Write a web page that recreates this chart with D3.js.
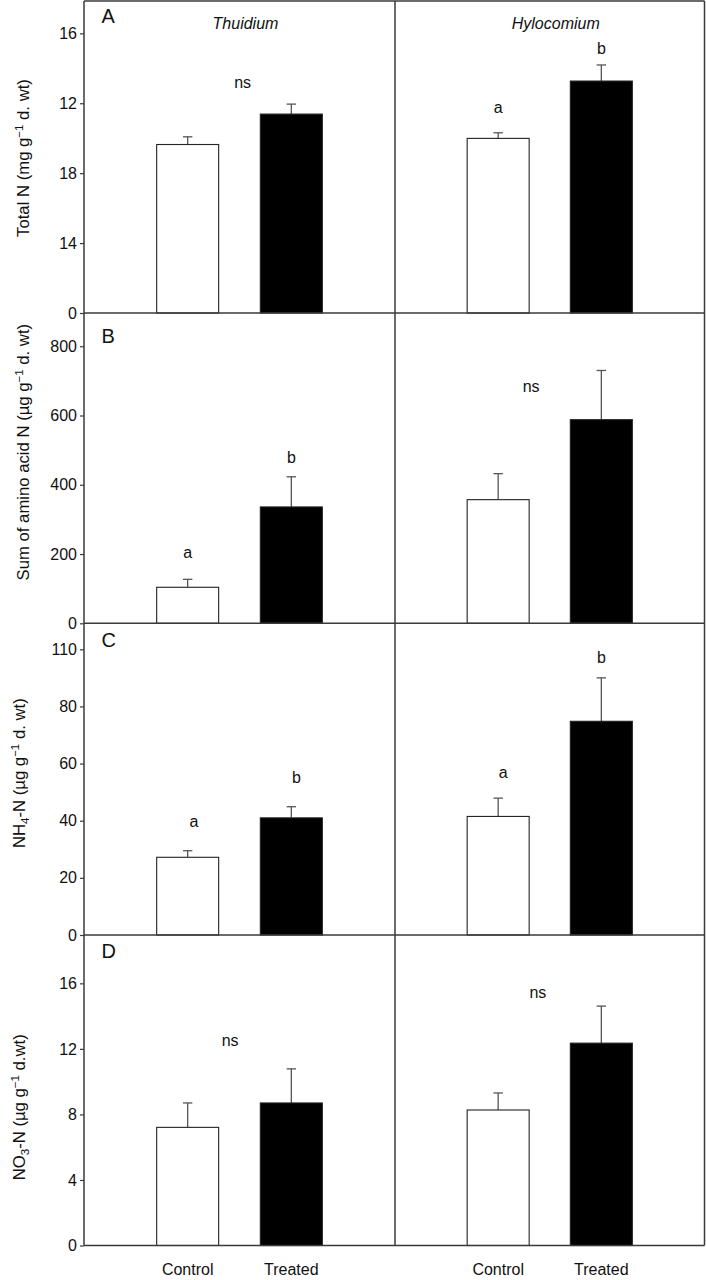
<!DOCTYPE html>
<html>
<head>
<meta charset="utf-8">
<script src="https://cdn.jsdelivr.net/npm/d3@7"></script>
<style>
  html, body { margin: 0; padding: 0; background: #fff; }
  svg { display: block; font-family: "Liberation Sans", Arial, sans-serif; }
</style>
</head>
<body>
<svg id="chart" width="706" height="1280"></svg>
<script>
// ---------------- DATA ----------------
const categories = ["Control", "Treated"];
const species = ["Thuidium", "Hylocomium"];
const panelLetters = ["A", "B", "C", "D"];

// means[species][category], errors = SE (upper whisker length)
const totalN_means = [[9.64, 11.38], [9.99, 13.27]];
const totalN_err   = [[0.44, 0.57], [0.32, 0.92]];
const aminoN_means = [[104, 336], [357, 588]];
const aminoN_err   = [[23, 87], [75, 142]];
const nh4_means    = [[27.2, 41.0], [41.5, 74.8]];
const nh4_err      = [[2.3, 3.9], [6.4, 15.2]];
const no3_means    = [[7.21, 8.70], [8.27, 12.35]];
const no3_err      = [[1.49, 2.08], [1.04, 2.26]];

// y-axis maxima and tick values / tick labels (as printed)
const yMax = [17.85, 896, 109.1, 18.95];
const totalN_ticks = [0, 4, 8, 12, 16];
const totalN_tickLabels = ["0", "14", "18", "12", "16"];
const aminoN_ticks = [0, 200, 400, 600, 800];
const aminoN_tickLabels = ["0", "200", "400", "600", "800"];
const nh4_ticks = [0, 20, 40, 60, 80, 100];
const nh4_tickLabels = ["0", "20", "40", "60", "80", "110"];
const no3_ticks = [0, 4, 8, 12, 16];
const no3_tickLabels = ["0", "4", "8", "12", "16"];

// significance letters: species index, position in category units, y value
const totalN_sig = [{s: 0, pos: 0.53, y: 12.87, t: "ns"}, {s: 1, pos: 0, y: 11.44, t: "a"}, {s: 1, pos: 1, y: 14.8, t: "b"}];
const aminoN_sig = [{s: 0, pos: 0, y: 188, t: "a"}, {s: 0, pos: 1, y: 464, t: "b"}, {s: 1, pos: 0.32, y: 667, t: "ns"}];
const nh4_sig    = [{s: 0, pos: 0.06, y: 37.9, t: "a"}, {s: 0, pos: 1.05, y: 53.3, t: "b"}, {s: 1, pos: 0.05, y: 54.8, t: "a"}, {s: 1, pos: 1, y: 95.1, t: "b"}];
const no3_sig    = [{s: 0, pos: 0.41, y: 12.16, t: "ns"}, {s: 1, pos: 0.385, y: 15.08, t: "ns"}];

// axis titles
const yTitles = [
  [{t: "Total N (mg g"}, {t: "\u22121", sup: true}, {t: " d. wt)"}],
  [{t: "Sum of amino acid N (\u00b5g g"}, {t: "\u22121", sup: true}, {t: " d. wt)"}],
  [{t: "NH"}, {t: "4", sub: true}, {t: "-N (\u00b5g g"}, {t: "\u22121", sup: true}, {t: " d. wt)"}],
  [{t: "NO"}, {t: "3", sub: true}, {t: "-N (\u00b5g g"}, {t: "\u22121", sup: true}, {t: " d.wt)"}]
];

// ---------------- LAYOUT ----------------
const panels = [
  {means: totalN_means, err: totalN_err, ticks: totalN_ticks, labels: totalN_tickLabels, sig: totalN_sig},
  {means: aminoN_means, err: aminoN_err, ticks: aminoN_ticks, labels: aminoN_tickLabels, sig: aminoN_sig},
  {means: nh4_means, err: nh4_err, ticks: nh4_ticks, labels: nh4_tickLabels, sig: nh4_sig},
  {means: no3_means, err: no3_err, ticks: no3_ticks, labels: no3_tickLabels, sig: no3_sig}
];
const tops = [1, 313, 623.3, 935];
const bottoms = [313, 623.3, 935, 1245.5];
const letterOffsets = [21.7, 29.5, 24, 23.3];
const titleOffsets = [1, -16, -6, 17];
const titleX = [28.5, 28.5, 25, 25];
const colX = [84, 395, 704.5];
const barW = 62;
const frameColor = "#3a3a3a";
const fontSize = 16;
const titleFontSize = 16.7;

const svg = d3.select("#chart");

const xScales = [0, 1].map(si =>
  d3.scalePoint().domain(categories).range([colX[si], colX[si + 1]]).padding(1)
);

panels.forEach((p, pi) => {
  const y = d3.scaleLinear().domain([0, yMax[pi]]).range([bottoms[pi], tops[pi]]);
  const g = svg.append("g");

  // y axis
  const axis = d3.axisLeft(y).tickValues(p.ticks)
    .tickFormat((d, i) => p.labels[i]).tickSizeInner(4).tickSizeOuter(0).tickPadding(3);
  const ag = g.append("g").attr("transform", `translate(${colX[0]},0)`).call(axis);
  ag.select(".domain").remove();
  ag.selectAll(".tick line").attr("stroke", frameColor).attr("stroke-width", 1.2);
  ag.selectAll(".tick text").attr("font-size", fontSize).attr("fill", "#111")
    .attr("font-family", "Liberation Sans, Arial, sans-serif");

  // bars
  [0, 1].forEach(si => {
    const xs = xScales[si];
    categories.forEach((c, ci) => {
      const v = p.means[si][ci];
      const e = p.err[si][ci];
      const cx = xs(c);
      g.append("line").attr("x1", cx).attr("x2", cx)
        .attr("y1", y(v)).attr("y2", y(v + e))
        .attr("stroke", "#555").attr("stroke-width", 1.3);
      g.append("line").attr("x1", cx - 4.7).attr("x2", cx + 4.7)
        .attr("y1", y(v + e)).attr("y2", y(v + e))
        .attr("stroke", "#555").attr("stroke-width", 1.3);
      g.append("rect")
        .attr("x", cx - barW / 2).attr("width", barW)
        .attr("y", y(v)).attr("height", y(0) - y(v))
        .attr("fill", ci === 0 ? "#fff" : "#000")
        .attr("stroke", "#222").attr("stroke-width", 1.1);
    });
    p.sig.filter(a => a.s === si).forEach(a => {
      const ax = xs(categories[0]) + a.pos * xs.step();
      g.append("text").attr("x", ax).attr("y", y(a.y))
        .attr("text-anchor", "middle").attr("font-size", fontSize).attr("fill", "#111")
        .text(a.t);
    });
  });

  // panel letter
  g.append("text").attr("x", 101.5).attr("y", tops[pi] + letterOffsets[pi])
    .attr("font-size", 20).attr("fill", "#111").text(panelLetters[pi]);

  // y title
  const cy = (tops[pi] + bottoms[pi]) / 2 + titleOffsets[pi];
  const tt = svg.append("text")
    .attr("transform", `translate(${titleX[pi]},${cy}) rotate(-90)`)
    .attr("text-anchor", "middle").attr("font-size", titleFontSize).attr("fill", "#111");
  let shift = 0;
  yTitles[pi].forEach(part => {
    const ts = tt.append("tspan").text(part.t);
    const target = part.sup ? -6 : part.sub ? 4 : 0;
    if (part.sup || part.sub) ts.attr("font-size", 11.5);
    ts.attr("dy", target - shift);
    shift = target;
  });
});

// frame lines
const fr = svg.append("g").attr("stroke", frameColor).attr("stroke-width", 1.5).attr("fill", "none");
colX.forEach(x => {
  fr.append("line").attr("x1", x).attr("x2", x).attr("y1", tops[0]).attr("y2", bottoms[3]);
});
fr.append("line").attr("x1", colX[0]).attr("x2", colX[2]).attr("y1", tops[0]).attr("y2", tops[0]);
bottoms.forEach(b => {
  fr.append("line").attr("x1", colX[0]).attr("x2", colX[2]).attr("y1", b).attr("y2", b);
});

// species titles
species.forEach((s, si) => {
  svg.append("text").attr("x", (colX[si] + colX[si + 1]) / 2 + 6).attr("y", 29)
    .attr("text-anchor", "middle").attr("font-size", fontSize).attr("font-style", "italic")
    .attr("fill", "#111").text(s);
});

// bottom category labels
[0, 1].forEach(si => {
  categories.forEach(c => {
    svg.append("text").attr("x", xScales[si](c)).attr("y", 1275)
      .attr("text-anchor", "middle").attr("font-size", fontSize).attr("fill", "#111").text(c);
  });
});
</script>
</body>
</html>
